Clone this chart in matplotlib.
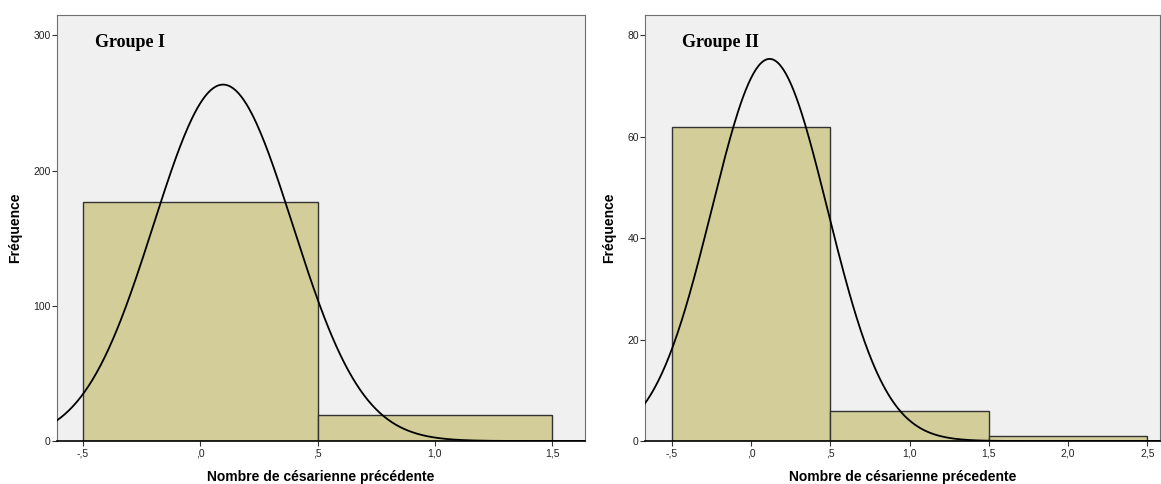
import numpy as np
import matplotlib
matplotlib.use("Agg")
import matplotlib.pyplot as plt

# histogram data (bin centres = number of previous caesareans)
g1_values = [0, 1]
g1_counts = [177, 19]
g2_values = [0, 1, 2]
g2_counts = [62, 6, 1]

g1_xticks = [-0.5, 0.0, 0.5, 1.0, 1.5]
g1_xticklabels = ["-,5", ",0", ",5", "1,0", "1,5"]
g1_yticks = [0, 100, 200, 300]
g2_xticks = [-0.5, 0.0, 0.5, 1.0, 1.5, 2.0, 2.5]
g2_xticklabels = ["-,5", ",0", ",5", "1,0", "1,5", "2,0", "2,5"]
g2_yticks = [0, 20, 40, 60, 80]

BAR_COLOR = "#d3ce99"
BG_COLOR = "#f0f0f0"
SANS = ["Liberation Sans", "DejaVu Sans"]
SERIF = ["Liberation Serif", "DejaVu Serif"]


def draw_hist(ax, values, counts, xlim, ylim, xticks, xticklabels, yticks, title, xlabel):
    values = np.array(values, dtype=float)
    counts = np.array(counts, dtype=float)
    ax.set_facecolor(BG_COLOR)
    ax.bar(values, counts, width=1.0, color=BAR_COLOR, edgecolor="#333333",
           linewidth=1.0, zorder=2)

    # SPSS style normal curve fitted on the same data
    n = counts.sum()
    mean = (values * counts).sum() / n
    sd = np.sqrt(((values - mean) ** 2 * counts).sum() / (n - 1))
    xs = np.linspace(xlim[0], xlim[1], 400)
    ys = n * 1.0 / (sd * np.sqrt(2 * np.pi)) * np.exp(-0.5 * ((xs - mean) / sd) ** 2)
    ax.plot(xs, ys, color="black", linewidth=1.3, zorder=3)

    ax.set_xlim(*xlim)
    ax.set_ylim(*ylim)
    ax.set_xticks(xticks)
    ax.set_xticklabels(xticklabels, family=SANS, fontsize=7.5, color="#222222")
    ax.set_yticks(yticks)
    ax.set_yticklabels([str(t) for t in yticks], family=SANS, fontsize=7.5, color="#222222")
    ax.tick_params(direction="out", length=3.5, width=0.8, color="#333333", pad=1)
    ax.tick_params(axis="x", pad=2)
    for side in ["top", "right", "left"]:
        ax.spines[side].set_color("#707070")
        ax.spines[side].set_linewidth(0.8)
    ax.spines["bottom"].set_color("black")
    ax.spines["bottom"].set_linewidth(1.2)

    ax.set_xlabel(xlabel, family=SANS, fontsize=10, fontweight="bold", labelpad=8)
    ax.set_ylabel("Fréquence", family=SANS, fontsize=10, fontweight="bold", labelpad=8)
    ax.text(0.072, 0.955, title, transform=ax.transAxes, family=SERIF,
            fontsize=13, fontweight="bold", ha="left", va="top")


fig = plt.figure(figsize=(11.61, 4.84), dpi=100)
ax1 = fig.add_axes([0.0491, 0.0888, 0.4548, 0.880])
ax2 = fig.add_axes([0.5556, 0.0888, 0.4436, 0.880])

draw_hist(ax1, g1_values, g1_counts, (-0.611, 1.64), (0, 315),
          g1_xticks, g1_xticklabels, g1_yticks, "Groupe I",
          "Nombre de césarienne précédente")
draw_hist(ax2, g2_values, g2_counts, (-0.67, 2.58), (0, 84),
          g2_xticks, g2_xticklabels, g2_yticks, "Groupe II",
          "Nombre de césarienne précedente")

fig.savefig("out.png", dpi=100)
